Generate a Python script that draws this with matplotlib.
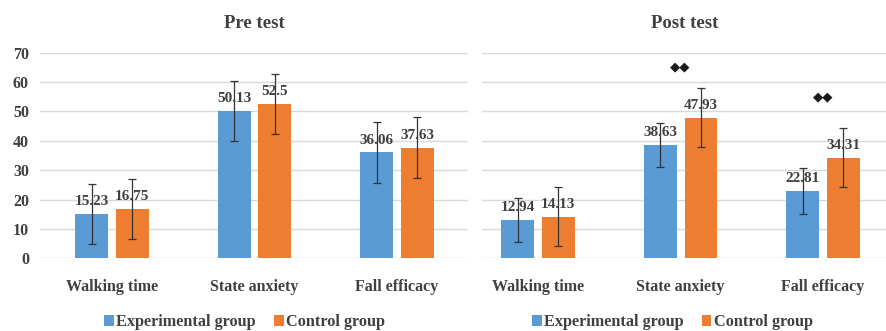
import numpy as np
import matplotlib.pyplot as plt

plt.rcParams['font.family'] = ['Liberation Serif', 'DejaVu Sans']

# Means and standard deviations for each outcome
categories = ['Walking time', 'State anxiety', 'Fall efficacy']
pre_exp = [15.23, 50.13, 36.06]
pre_ctrl = [16.75, 52.5, 37.63]
pre_exp_sd = [10.2, 10.3, 10.3]
pre_ctrl_sd = [10.3, 10.3, 10.4]
post_exp = [12.94, 38.63, 22.81]
post_ctrl = [14.13, 47.93, 34.31]
post_exp_sd = [7.5, 7.5, 7.8]
post_ctrl_sd = [10.0, 10.0, 10.0]
# significance marks (category index, height)
post_sig = [(1, 65.0), (2, 55.0)]

blue = '#5B9BD5'
orange = '#ED7D31'
txt = '#404040'

fig = plt.figure(figsize=(8.87, 3.31), dpi=100)
ax1 = fig.add_axes([40/887, 72.7/331, 428/887, 205.6/331])
ax2 = fig.add_axes([482/887, 72.7/331, 405/887, 205.6/331])


def draw(ax, exp, ctrl, exp_sd, ctrl_sd, title, xlim, show_y, leg_x):
    x = np.arange(len(categories))
    w = 0.23
    off = 0.143
    ax.bar(x - off, exp, w, color=blue, label='Experimental group', zorder=2)
    ax.bar(x + off, ctrl, w, color=orange, label='Control group', zorder=2)
    ax.errorbar(x - off, exp, yerr=exp_sd, fmt='none', ecolor='#333333',
                elinewidth=0.9, capsize=3, capthick=0.9, zorder=3)
    ax.errorbar(x + off, ctrl, yerr=ctrl_sd, fmt='none', ecolor='#333333',
                elinewidth=0.9, capsize=3, capthick=0.9, zorder=3)
    for xi, v in zip(x - off, exp):
        ax.text(xi, v + 2.0, f'{v:g}', ha='center', va='bottom', fontsize=11,
                fontweight='bold', color=txt, zorder=4)
    for xi, v in zip(x + off, ctrl):
        ax.text(xi, v + 2.0, f'{v:g}', ha='center', va='bottom', fontsize=11,
                fontweight='bold', color=txt, zorder=4)
    ax.set_ylim(0, 70)
    ax.set_xlim(*xlim)
    ax.set_yticks(np.arange(0, 71, 10))
    ax.yaxis.grid(True, color='#D9D9D9', linewidth=1)
    ax.set_axisbelow(True)
    for s in ax.spines.values():
        s.set_visible(False)
    ax.set_xticks(x)
    ax.set_xticklabels(categories, fontsize=11.5, fontweight='bold', color=txt)
    ax.tick_params(axis='x', length=0, pad=15)
    ax.tick_params(axis='y', length=0, labelsize=11.5, labelcolor=txt, pad=8)
    for lab in ax.get_yticklabels():
        lab.set_fontweight('bold')
    if not show_y:
        ax.set_yticklabels([])
    ax.set_title(title, fontsize=13.5, fontweight='bold', color=txt, pad=18)
    ax.legend(loc='upper center', bbox_to_anchor=(leg_x, -0.2), ncol=2,
              frameon=False, handlelength=0.6, handleheight=0.7,
              handletextpad=0.15, columnspacing=1.1, labelcolor=txt,
              prop={'weight': 'bold', 'size': 11.7})


draw(ax1, pre_exp, pre_ctrl, pre_exp_sd, pre_ctrl_sd, 'Pre test',
     (-0.505, 2.498), True, 0.478)
draw(ax2, post_exp, post_ctrl, post_exp_sd, post_ctrl_sd, 'Post test',
     (-0.393, 2.449), False, 0.47)

for i, h in post_sig:
    ax2.text(i, h, '◆◆', ha='center', va='center', fontsize=9.5,
             color='#1a1a1a', family='DejaVu Sans', zorder=4)

fig.savefig('out.png', dpi=100)
